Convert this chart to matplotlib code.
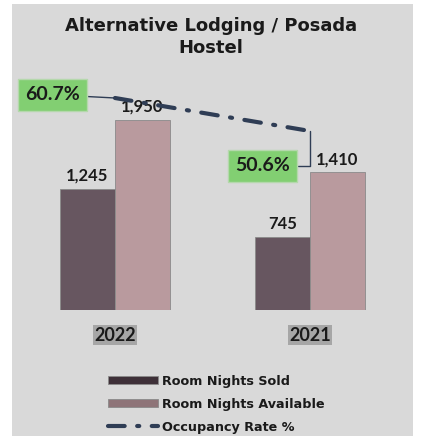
import matplotlib.pyplot as plt
import numpy as np
from matplotlib.patches import Rectangle

plt.rcParams['font.family'] = ['Lato', 'DejaVu Sans']

# data
years = ['2022', '2021']
sold = [1245, 745]
available = [1950, 1410]
occupancy = [60.7, 50.6]

c_sold = '#675660'
c_avail = '#b99a9e'
c_line = '#2f3d55'
c_green = '#82cf72'

fig = plt.figure(figsize=(4.22, 4.36), dpi=100)
fig.patches.append(Rectangle((12 / 422, 0), 401 / 422, 432 / 436, transform=fig.transFigure,
                             facecolor='#d9d9d9', edgecolor='none', zorder=-5))

ax = fig.add_axes([12 / 422, 0.289, 401 / 422, 0.5275])
ax.patch.set_alpha(0)
x = np.arange(len(years))
w = 0.282

b1 = ax.bar(x - w / 2, sold, w, color=c_sold, edgecolor='#8a8a8a', linewidth=0.6, label='Room Nights Sold')
b2 = ax.bar(x + w / 2, available, w, color=c_avail, edgecolor='#8a8a8a', linewidth=0.6, label='Room Nights Available')
for bars in (b1, b2):
    for r in bars:
        ax.text(r.get_x() + r.get_width() / 2, r.get_height() + 55, f'{int(r.get_height()):,}',
                ha='center', va='bottom', fontsize=12, fontweight='bold', color='#1a1a1a')

ax.set_xlim(-0.528, 1.528)
ax.set_ylim(0, 2357)
ax.set_yticks([])
ax.set_xticks(x)
ax.set_xticklabels(years, fontsize=13, fontweight='bold', color='#1a1a1a')
for lab in ax.get_xticklabels():
    lab.set_bbox(dict(facecolor='#a6a6a6', edgecolor='none', pad=1.0))
ax.tick_params(axis='x', length=0, pad=12)
for s in ax.spines.values():
    s.set_visible(False)

ax2 = ax.twinx()
ax2.set_ylim(-4.13, 66.2)
ax2.set_yticks([])
for s in ax2.spines.values():
    s.set_visible(False)
line, = ax2.plot(x, occupancy, color=c_line, linewidth=3,
                 dashes=[4, 3, 0.5, 3], dash_capstyle='round', label='Occupancy Rate %')

ax2.annotate(f'{occupancy[0]}%', xy=(x[0], occupancy[0]), xytext=(-0.46, occupancy[0] + 1.0),
             fontsize=14, fontweight='bold', color='#1a1a1a', ha='left', va='center',
             bbox=dict(boxstyle='square,pad=0.38', facecolor=c_green, edgecolor='#b5d8ac', linewidth=1),
             arrowprops=dict(arrowstyle='-', color=c_line, lw=1, shrinkA=0, shrinkB=0))
ax2.annotate(f'{occupancy[1]}%', xy=(x[1], occupancy[1]), xytext=(0.615, occupancy[1] - 10.6),
             fontsize=14, fontweight='bold', color='#1a1a1a', ha='left', va='center',
             bbox=dict(boxstyle='square,pad=0.38', facecolor=c_green, edgecolor='#b5d8ac', linewidth=1),
             arrowprops=dict(arrowstyle='-', color=c_line, lw=1, shrinkA=0, shrinkB=0,
                             connectionstyle='angle,angleA=0,angleB=90,rad=0'))

handles = [b1, b2, line]
leg = fig.legend(handles, [h.get_label() for h in handles], loc='center', bbox_to_anchor=(0.512, 0.073),
                 frameon=False, handlelength=3.9, handleheight=0.55, labelspacing=0.78,
                 handletextpad=0.3, prop={'family': 'DejaVu Sans', 'weight': 'bold', 'size': 9.2})
leg.legend_handles[0].set_facecolor('#3e3038')
leg.legend_handles[1].set_facecolor('#8e7478')
for t in leg.get_texts():
    t.set_color('#1a1a1a')

fig.text(0.5, 0.916, 'Alternative Lodging / Posada\nHostel', ha='center', va='center',
         fontsize=13, fontweight='bold', color='#1a1a1a', linespacing=1.3, family='DejaVu Sans')

fig.savefig('out.png', dpi=100)
